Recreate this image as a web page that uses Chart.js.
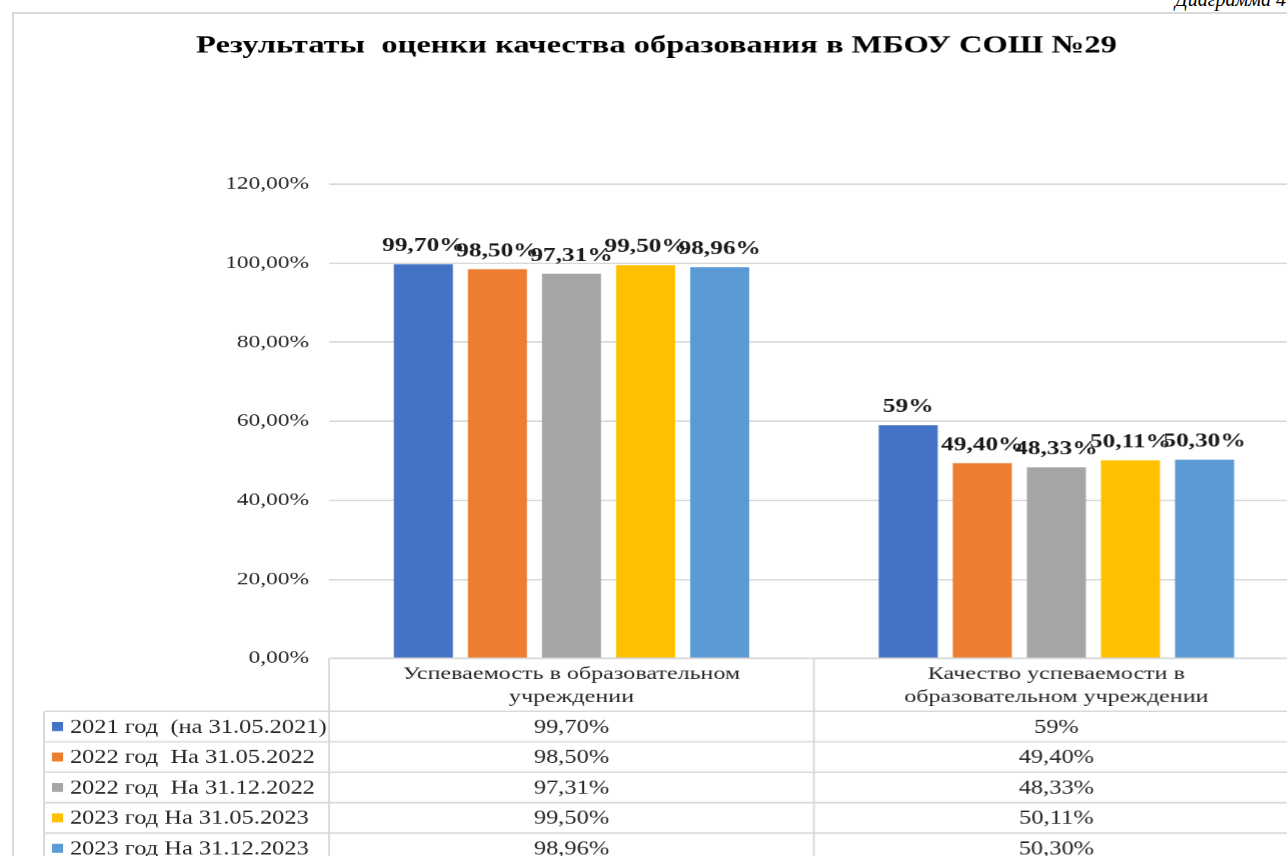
<!DOCTYPE html>
<html><head><meta charset="utf-8">
<script src="https://cdn.jsdelivr.net/npm/chart.js@4"></script>
<style>
html,body{margin:0;padding:0;background:#fff;overflow:hidden;width:1287px;height:856px;position:relative;}
#frame{position:absolute;left:12px;top:12px;width:1400px;height:900px;border-left:2px solid #d9d9d9;border-top:2px solid #d9d9d9;}
#cap{position:absolute;left:1175px;top:-12px;font:italic 20px "Liberation Serif";color:#000;white-space:nowrap;}
#wrap{position:absolute;left:14px;top:14px;width:988px;height:842px;transform:scaleX(1.3);transform-origin:0 0;}
</style></head>
<body>
<div id="frame"></div>
<div id="cap">Диаграмма 4</div>
<div id="wrap"><canvas id="c" width="988" height="842" style="width:988px;height:842px"></canvas></div>
<script>
const categories = [['Успеваемость в образовательном', 'учреждении'], ['Качество успеваемости в', 'образовательном учреждении']];
const seriesNames = ['2021 год  (на 31.05.2021)', '2022 год  На 31.05.2022', '2022 год  На 31.12.2022', '2023 год На 31.05.2023', '2023 год На 31.12.2023'];
const values2021 = [99.70, 59];
const values2022May = [98.50, 49.40];
const values2022Dec = [97.31, 48.33];
const values2023May = [99.50, 50.11];
const values2023Dec = [98.96, 50.30];
const seriesColors = ['#4472C4', '#ED7D31', '#A5A5A5', '#FFC000', '#5B9BD5'];
const titleText = 'Результаты  оценки качества образования в МБОУ СОШ №29';
const yMin = 0, yMax = 120, yStep = 20;

const allValues = [values2021, values2022May, values2022Dec, values2023May, values2023Dec];
const fmt = v => Number.isInteger(v) ? v + '%' : v.toFixed(2).replace('.', ',') + '%';
const SERIF = '"Liberation Serif", "Times New Roman", serif';

const barLabels = {
  id: 'barLabels',
  afterDatasetsDraw(chart) {
    const ctx = chart.ctx;
    ctx.save();
    ctx.font = 'bold 19.5px ' + SERIF;
    ctx.fillStyle = '#1a1a1a';
    ctx.textAlign = 'center';
    ctx.textBaseline = 'alphabetic';
    chart.data.datasets.forEach((ds, i) => {
      chart.getDatasetMeta(i).data.forEach((el, j) => {
        ctx.fillText(fmt(ds.data[j]), el.x, el.y - 13);
      });
    });
    ctx.restore();
  }
};

const dataTable = {
  id: 'dataTable',
  afterDraw(chart) {
    const ctx = chart.ctx, a = chart.chartArea, x = chart.scales.x;
    const rowsTop = 697, rowH = 30.4, left = 23.1, right = chart.width, bottom = chart.height;
    const half = (x.getPixelForValue(1) - x.getPixelForValue(0)) / 2;
    ctx.save();
    ctx.strokeStyle = '#d9d9d9';
    ctx.lineWidth = 1.5;
    ctx.beginPath();
    ctx.moveTo(a.left, a.bottom); ctx.lineTo(right, a.bottom);
    for (let i = 0; i < seriesNames.length; i++) {
      const y = rowsTop + i * rowH;
      ctx.moveTo(left, y); ctx.lineTo(right, y);
    }
    ctx.moveTo(left, rowsTop); ctx.lineTo(left, bottom);
    for (let j = 0; j < categories.length; j++) {
      const cx = x.getPixelForValue(j);
      ctx.moveTo(cx - half, a.bottom); ctx.lineTo(cx - half, bottom);
      ctx.moveTo(cx + half, a.bottom); ctx.lineTo(cx + half, bottom);
    }
    ctx.stroke();
    ctx.font = '18.8px ' + SERIF;
    ctx.textBaseline = 'middle';
    seriesNames.forEach((name, i) => {
      const cy = rowsTop + i * rowH + rowH / 2;
      ctx.fillStyle = seriesColors[i];
      ctx.fillRect(29.2, cy - 4.5, 8.5, 9);
      ctx.fillStyle = '#262626';
      ctx.textAlign = 'left';
      ctx.fillText(name, 43, cy + 1);
      ctx.textAlign = 'center';
      allValues[i].forEach((v, j) => ctx.fillText(fmt(v), x.getPixelForValue(j), cy + 1));
    });
    ctx.restore();
  }
};

new Chart(document.getElementById('c'), {
  type: 'bar',
  data: {
    labels: categories,
    datasets: seriesNames.map((n, i) => ({
      label: n, data: allValues[i], backgroundColor: seriesColors[i],
      barPercentage: 0.797, categoryPercentage: 0.764
    }))
  },
  options: {
    responsive: false,
    animation: false,
    devicePixelRatio: 1.3,
    layout: { padding: 0 },
    plugins: {
      legend: { display: false },
      tooltip: { enabled: false },
      title: {
        display: true, text: titleText, color: '#000',
        font: { family: SERIF, size: 25, weight: 'bold', lineHeight: 1.2 },
        padding: { top: 17, bottom: 123 }
      }
    },
    scales: {
      x: {
        grid: { display: false },
        border: { display: false },
        ticks: { color: '#262626', font: { family: SERIF, size: 18.5, lineHeight: 1.25 }, padding: -4, maxRotation: 0, autoSkip: false },
        afterFit(s) { s.height = 198; }
      },
      y: {
        min: yMin, max: yMax,
        grid: { color: '#d9d9d9', lineWidth: 1.5, drawTicks: false },
        border: { display: false },
        ticks: { stepSize: yStep, color: '#262626', font: { family: SERIF, size: 18 }, padding: 15.4,
          callback: v => v.toFixed(2).replace('.', ',') + '%' },
        afterFit(s) { s.width = 242.3; }
      }
    }
  },
  plugins: [barLabels, dataTable]
});
</script>
</body></html>
